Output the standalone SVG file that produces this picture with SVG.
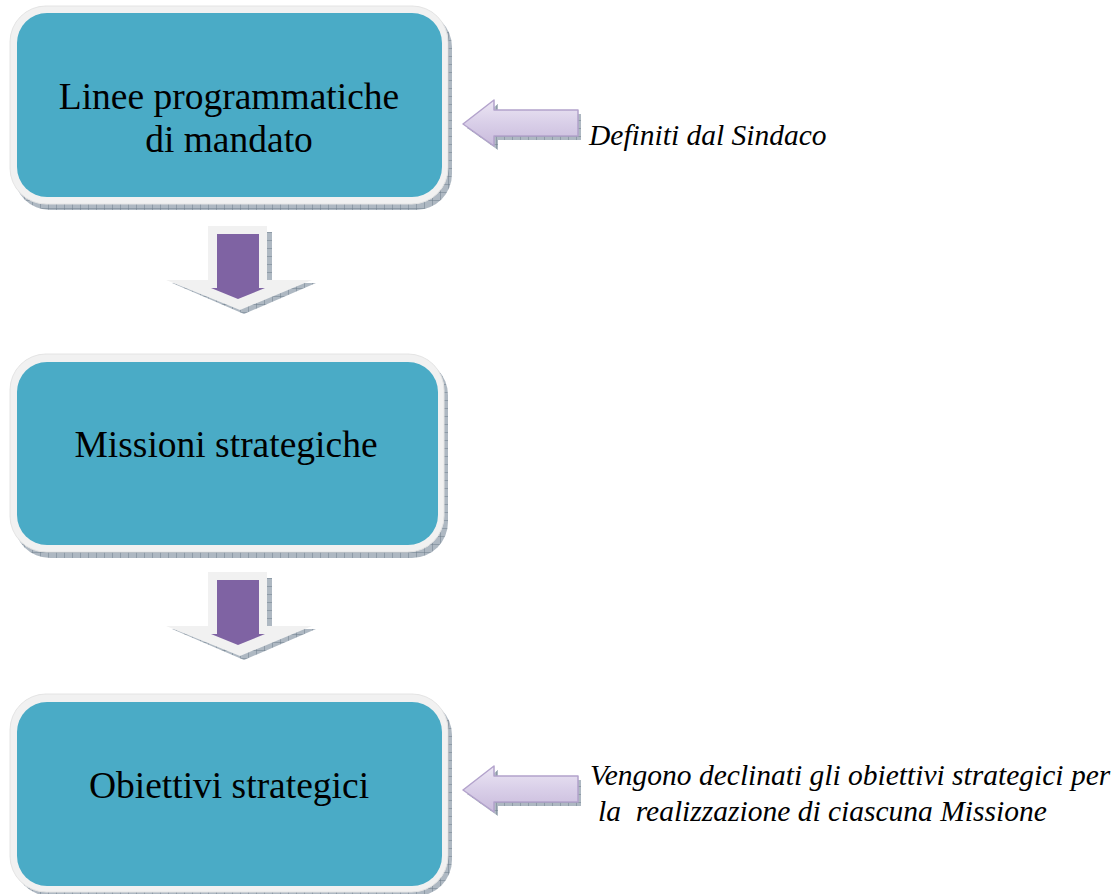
<svg xmlns="http://www.w3.org/2000/svg" width="1118" height="894" viewBox="0 0 1118 894">
<defs>
<pattern id="hatch" width="8" height="8" patternUnits="userSpaceOnUse">
<rect width="8" height="8" fill="#aeb8c2"/>
<path d="M0 0H8M0 0V8" stroke="#6f7e8c" stroke-width="1"/>
</pattern>
<linearGradient id="lav" x1="0" y1="0" x2="0" y2="1">
<stop offset="0" stop-color="#ece6f4"/>
<stop offset="0.5" stop-color="#d9cfe8"/>
<stop offset="1" stop-color="#c9bbdc"/>
</linearGradient>
<g id="downArrow">
<path d="M213 232H272V283H316L244 314L172 283H213Z" fill="url(#hatch)"/>
<path d="M208 226H267V280H312L240 310L166 280H208Z" fill="#f1f1f1"/>
<path d="M217 234H259V288H265L238 299L211 288H217Z" fill="#7f63a3"/>
</g>
<g id="leftArrow">
<path d="M467 128L498 104V114H581V140H498V150Z" fill="url(#hatch)"/>
<path d="M463 124L494 100V110H578V136H494V146Z" fill="url(#lav)" stroke="#b3a3cc" stroke-width="1.5" stroke-linejoin="round"/>
</g>
</defs>
<style>
.outer{fill:#f1f1f1;stroke:#e4e4e4;stroke-width:1}
.shadow{fill:url(#hatch)}
.inner{fill:#4aabc6}
.box{font-family:"Liberation Serif","Times New Roman",serif;font-size:37.5px;fill:#000;text-anchor:middle}
.note{font-family:"Liberation Serif","Times New Roman",serif;font-size:29.5px;font-style:italic;fill:#000}
</style>
<rect width="1118" height="894" fill="#ffffff"/>
<g id="node1">
<rect class="shadow" x="14" y="11" width="438" height="199" rx="36"/>
<rect class="outer" x="10" y="6" width="438" height="198" rx="36"/>
<rect class="inner" x="17" y="13" width="425" height="184" rx="30"/>
<text class="box" x="229" y="109">Linee programmatiche</text>
<text class="box" x="229" y="152">di mandato</text>
</g>
<g id="node2">
<rect class="shadow" x="14" y="359" width="434" height="199" rx="36"/>
<rect class="outer" x="10" y="354" width="434" height="198" rx="36"/>
<rect class="inner" x="17" y="362" width="421" height="183" rx="30"/>
<text class="box" x="226" y="457">Missioni strategiche</text>
</g>
<g id="node3">
<rect class="shadow" x="14" y="699" width="438" height="197" rx="36"/>
<rect class="outer" x="10" y="694" width="438" height="198" rx="36"/>
<rect class="inner" x="17" y="702" width="425" height="184" rx="30"/>
<text class="box" x="229" y="798">Obiettivi strategici</text>
</g>
<g id="connectors">
<use href="#downArrow"/>
<use href="#downArrow" transform="translate(0,346)"/>
<use href="#leftArrow"/>
<use href="#leftArrow" transform="translate(0,666)"/>
</g>
<g id="notes">
<text class="note" x="589" y="145">Definiti dal Sindaco</text>
<text class="note" x="590" y="785">Vengono declinati gli obiettivi strategici per</text>
<text class="note" x="598" y="821" xml:space="preserve">la  realizzazione di ciascuna Missione</text>
</g>
</svg>
